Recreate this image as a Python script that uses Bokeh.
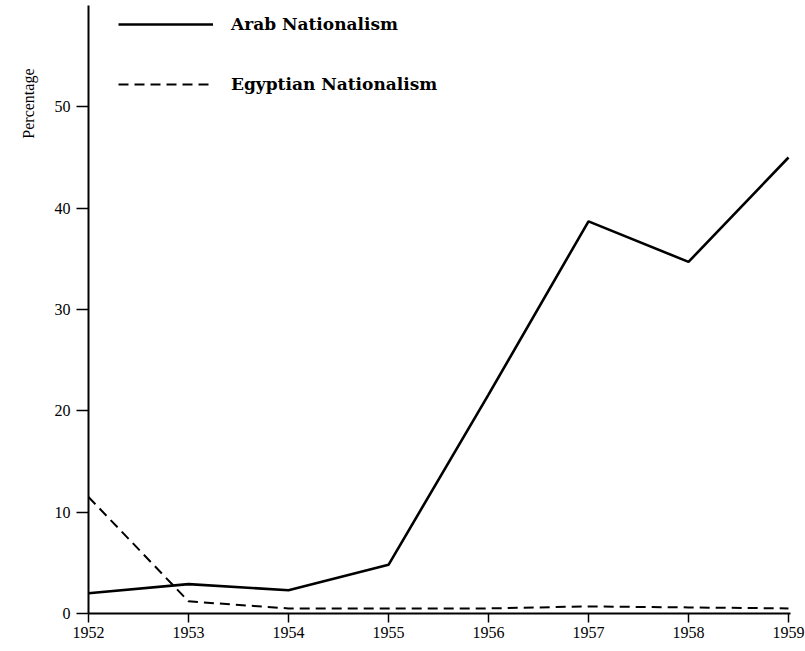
from bokeh.plotting import figure
from bokeh.models import Range1d, FixedTicker, Legend, LegendItem, Title
from bokeh.embed import file_html
from bokeh.resources import INLINE

years = [1952, 1953, 1954, 1955, 1956, 1957, 1958, 1959]
arab_nationalism = [2.0, 2.9, 2.3, 4.8, 21.6, 38.7, 34.7, 45.0]
egyptian_nationalism = [11.5, 1.2, 0.5, 0.5, 0.5, 0.7, 0.6, 0.5]
y_ticks = [0, 10, 20, 30, 40, 50]

SERIF = "Liberation Serif"

p = figure(width=805, height=648, output_backend="svg", toolbar_location=None,
           x_range=Range1d(1952, 1959.02), y_range=Range1d(0, 60.0),
           min_border_left=88, min_border_right=15, min_border_top=5, min_border_bottom=35)
p.outline_line_color = None
p.xgrid.visible = False
p.ygrid.visible = False

r1 = p.line(years, arab_nationalism, line_color="black", line_width=2.6)
r2 = p.line(years, egyptian_nationalism, line_color="black", line_width=2.0, line_dash="10 6")

for ax in (p.xaxis[0], p.yaxis[0]):
    ax.axis_line_width = 2
    ax.axis_line_color = "black"
    ax.major_tick_line_width = 1.5
    ax.major_tick_line_color = "black"
    ax.minor_tick_line_color = None
    ax.major_label_text_font = SERIF
    ax.major_label_text_font_size = "16px"
    ax.major_label_text_color = "black"

p.xaxis.ticker = FixedTicker(ticks=years)
p.xaxis.major_tick_out = 9
p.xaxis.major_tick_in = 0
p.xaxis.major_label_standoff = 4
p.yaxis.ticker = FixedTicker(ticks=y_ticks)
p.yaxis.major_tick_out = 12
p.yaxis.major_tick_in = 0
p.yaxis.major_label_standoff = 6

p.add_layout(Title(text="Percentage", align="right", offset=63,
                   text_font=SERIF, text_font_size="16px", text_font_style="normal",
                   text_color="black", standoff=30), "left")

legend = Legend(items=[LegendItem(label="Arab Nationalism", renderers=[r1]),
                       LegendItem(label="Egyptian Nationalism", renderers=[r2])],
                location=(30, 519), orientation="vertical")
legend.background_fill_alpha = 0
legend.border_line_color = None
legend.padding = 0
legend.margin = 0
legend.spacing = 40
legend.glyph_width = 95
legend.glyph_height = 20
legend.label_height = 20
legend.label_standoff = 18
legend.label_text_font = "DejaVu Serif"
legend.label_text_font_style = "bold"
legend.label_text_font_size = "17px"
legend.label_text_color = "black"
p.add_layout(legend)

open("out.html", "w").write(file_html(p, INLINE))
